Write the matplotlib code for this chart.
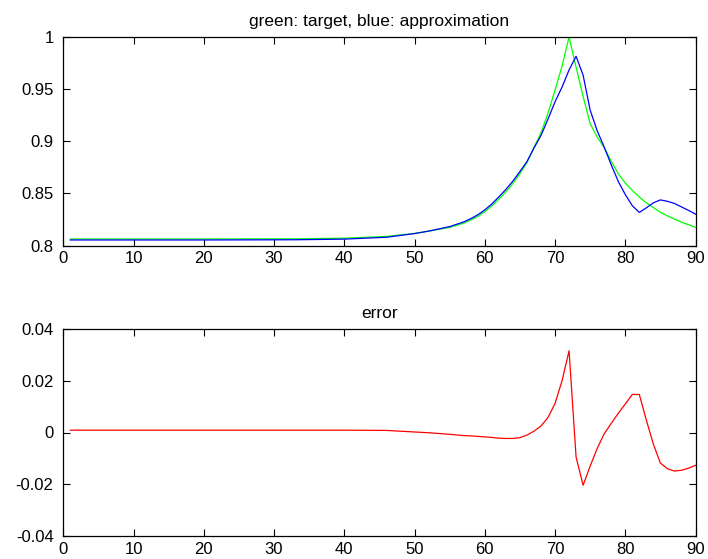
import matplotlib
matplotlib.use("Agg")
import matplotlib.pyplot as plt

# ---- data ----
x = [1, 20, 33, 40, 46, 50, 52, 55, 57, 58, 59, 60, 61, 62, 63, 64, 65, 66, 67, 68,
     69, 70, 71, 72, 73, 74, 75, 76, 77, 78, 79, 80, 81, 82, 83, 84, 85, 86, 87, 88, 89, 90]

target = [0.8063, 0.8063, 0.8065, 0.8071, 0.8088, 0.8117, 0.8138, 0.8175, 0.8215, 0.8245,
          0.8280, 0.8325, 0.8380, 0.8445, 0.8515, 0.8595, 0.8690, 0.8795, 0.8940, 0.9080,
          0.9270, 0.9490, 0.9720, 1.0000, 0.9710, 0.9430, 0.9170, 0.9040, 0.8940, 0.8810,
          0.8690, 0.8600, 0.8530, 0.8465, 0.8410, 0.8365, 0.8320, 0.8285, 0.8255, 0.8225,
          0.8200, 0.8175]

approximation = [0.8054, 0.8054, 0.8056, 0.8062, 0.8080, 0.8115, 0.8139, 0.8182, 0.8227, 0.8258,
                 0.8295, 0.8342, 0.8399, 0.8467, 0.8538, 0.8618, 0.8710, 0.8805, 0.8935, 0.9055,
                 0.9212, 0.9378, 0.9520, 0.9684, 0.9815, 0.9634, 0.9300, 0.9102, 0.8945, 0.8775,
                 0.8616, 0.8490, 0.8383, 0.8318, 0.8362, 0.8410, 0.8438, 0.8425, 0.8404, 0.8371,
                 0.8338, 0.8302]

error = [0.0009, 0.0009, 0.0009, 0.0009, 0.0008, 0.0002, -0.0001, -0.0007, -0.0012, -0.0013,
         -0.0015, -0.0017, -0.0019, -0.0022, -0.0023, -0.0023, -0.0020, -0.0010, 0.0005, 0.0025,
         0.0058, 0.0112, 0.0200, 0.0316, -0.0095, -0.0204, -0.0130, -0.0062, -0.0005, 0.0035,
         0.0074, 0.0110, 0.0147, 0.0147, 0.0048, -0.0045, -0.0118, -0.0140, -0.0149, -0.0146,
         -0.0138, -0.0127]

x_ticks = [0, 10, 20, 30, 40, 50, 60, 70, 80, 90]
top_yticks = [0.8, 0.85, 0.9, 0.95, 1.0]
top_yticklabels = ["0.8", "0.85", "0.9", "0.95", "1"]
bot_yticks = [-0.04, -0.02, 0.0, 0.02, 0.04]
bot_yticklabels = ["-0.04", "-0.02", "0", "0.02", "0.04"]

title_top = "green: target, blue: approximation"
title_bot = "error"

plt.rcParams['font.family'] = ['Liberation Sans', 'DejaVu Sans']

W, H = 708, 559
fig = plt.figure(figsize=(W / 100, H / 100), dpi=100)

ax1 = fig.add_axes([63.3 / W, 1 - 245.6 / H, (695.5 - 63.3) / W, (245.6 - 37) / H])
ax2 = fig.add_axes([63.3 / W, 1 - 536 / H, (695.5 - 63.3) / W, (536 - 329) / H])

ax1.plot(x, target, color=(0, 1, 0), lw=0.9)
ax1.plot(x, approximation, color=(0, 0, 1), lw=0.9)
ax2.plot(x, error, color=(1, 0, 0), lw=0.9)

for ax, yt, ytl, yl, title in [
    (ax1, top_yticks, top_yticklabels, (0.8, 1.0), title_top),
    (ax2, bot_yticks, bot_yticklabels, (-0.04, 0.04), title_bot),
]:
    ax.set_xlim(0, 90)
    ax.set_ylim(*yl)
    ax.set_xticks(x_ticks)
    ax.set_xticklabels([str(t) for t in x_ticks])
    ax.set_yticks(yt)
    ax.set_yticklabels(ytl)
    ax.tick_params(direction='in', length=5, width=0.8, top=True, right=True,
                   labelsize=12, pad=4, colors='black')
    ax.tick_params(axis='y', pad=7)
    for s in ax.spines.values():
        s.set_linewidth(0.9)
    ax.set_title(title, fontsize=12.5, pad=8)

fig.savefig("out.png", dpi=100)
